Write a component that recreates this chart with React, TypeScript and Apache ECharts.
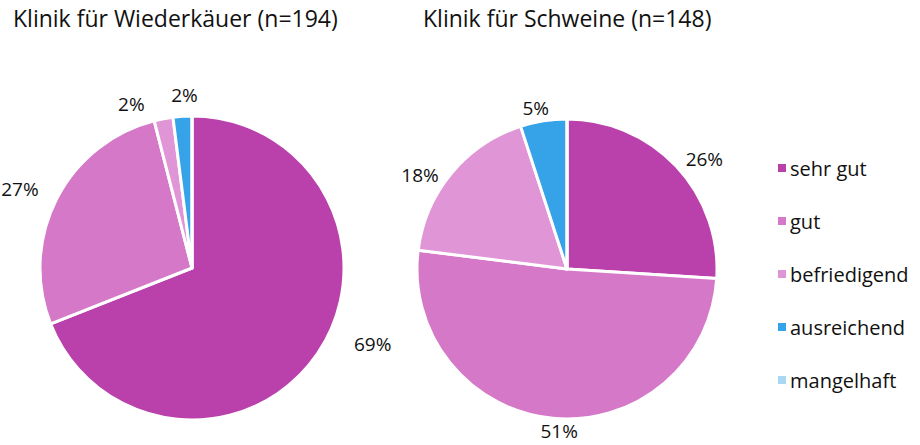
import React, { useEffect, useRef } from "react";
import * as echarts from "echarts";

const categories = ["sehr gut", "gut", "befriedigend", "ausreichend", "mangelhaft"];
const colors = ["#BA40AB", "#D678C8", "#E096D6", "#36A2E7", "#A9D8F5"];
const titles = ["Klinik für Wiederkäuer (n=194)", "Klinik für Schweine (n=148)"];
const wiederkaeuer = [69, 27, 2, 2, 0];
const schweine = [26, 51, 18, 5, 0];

// small label nudges (dx, dy) to mimic the "best fit" placement of the original
const nudgesLeft = [[21, -15], [-2, -5], [-10, -5], [23, -11], [0, 0]];
const nudgesRight = [[-5, 0], [33, 3], [2, 8], [14, -3], [0, 0]];

const FONT = "'Open Sans', 'Noto Sans', sans-serif";

function buildData(values: number[]) {
  return values.map((v, i) => ({
    name: categories[i],
    value: v,
    itemStyle: { color: colors[i] },
    label: { show: v > 0 },
  }));
}

export default function App() {
  const ref = useRef<HTMLDivElement>(null);
  useEffect(() => {
    if (!ref.current) return;
    const chart = echarts.init(ref.current, undefined, { renderer: "svg" });
    const pieBase = {
      type: "pie",
      startAngle: 90,
      clockwise: true,
      avoidLabelOverlap: false,
      label: {
        show: true,
        position: "outside",
        formatter: "{c}%",
        fontFamily: FONT,
        fontSize: 19,
        color: "#111111",
        overflow: "none",
      },
      labelLine: { show: false, length: 10, length2: 2 },
      itemStyle: { borderColor: "#ffffff", borderWidth: 3 },
      emphasis: { disabled: true },
    };
    const titleStyle = { fontFamily: FONT, fontSize: 23, fontWeight: "normal", color: "#111111" };
    const mkLayout = (nudges: number[][]) => (p: any) => ({
      hideOverlap: false,
      moveOverlap: null,
      dx: nudges[p.dataIndex][0],
      dy: nudges[p.dataIndex][1],
    });
    chart.setOption({
      animation: false,
      backgroundColor: "#ffffff",
      title: [
        { text: titles[0], left: 8, top: 1, textStyle: titleStyle },
        { text: titles[1], left: 418, top: 1, textStyle: titleStyle },
      ],
      legend: {
        orient: "vertical",
        left: 771,
        top: 153,
        itemWidth: 10,
        itemHeight: 10,
        itemGap: 33,
        icon: "rect",
        data: categories,
        textStyle: { fontFamily: FONT, fontSize: 20, color: "#111111", padding: [0, 0, 0, -2] },
      },
      series: [
        {
          ...pieBase,
          name: titles[0],
          center: [192, 268],
          radius: 152,
          labelLayout: mkLayout(nudgesLeft),
          data: buildData(wiederkaeuer),
        },
        {
          ...pieBase,
          name: titles[1],
          center: [567, 269],
          radius: 150,
          labelLayout: mkLayout(nudgesRight),
          data: buildData(schweine),
        },
      ],
    });
    return () => chart.dispose();
  }, []);
  return (
    <div
      ref={ref}
      style={{ position: "fixed", left: 0, top: 0, width: 920, height: 445 }}
    />
  );
}
